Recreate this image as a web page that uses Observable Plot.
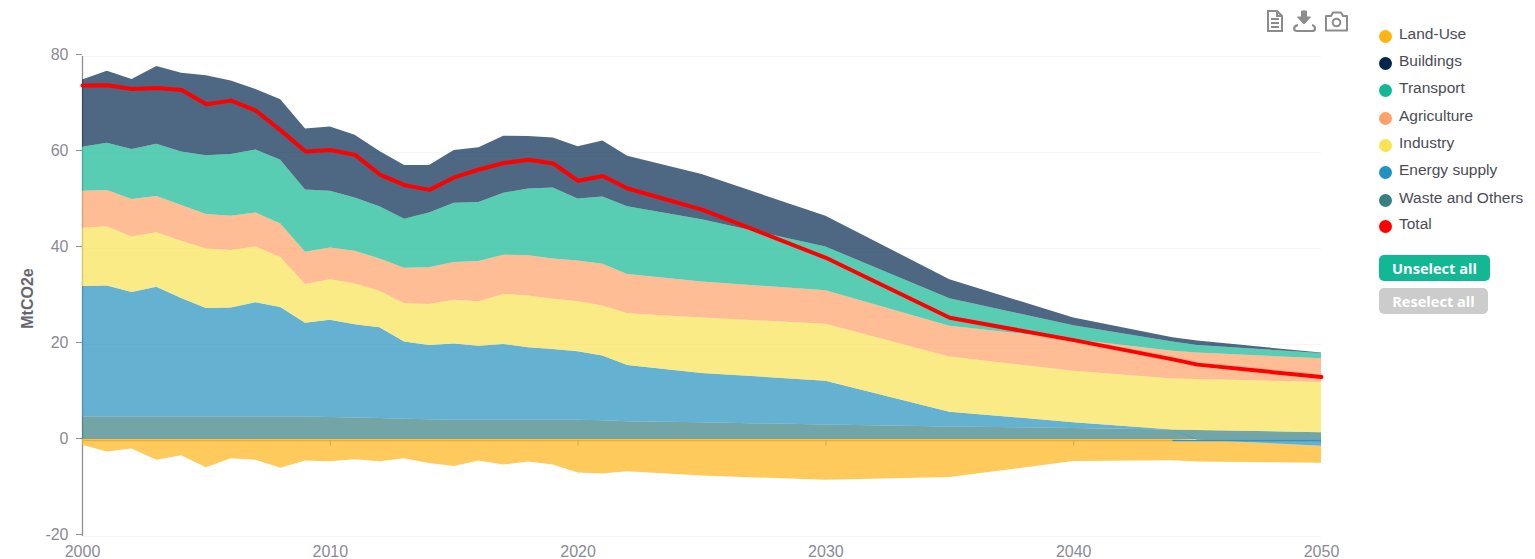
<!DOCTYPE html>
<html><head><meta charset="utf-8">
<script src="https://cdn.jsdelivr.net/npm/d3@7"></script>
<script src="https://cdn.jsdelivr.net/npm/@observablehq/plot@0.6"></script>
<style>
html,body{margin:0;padding:0;background:#fff;overflow:hidden}
#wrap{position:relative;width:1535px;height:559px}
#wrap svg.plot{display:block}
.leg{position:absolute;left:1399px;font:15.5px "Liberation Sans",Arial,sans-serif;color:#4b4b57;line-height:18px;white-space:nowrap}
.dot{position:absolute;left:1379px;width:13px;height:13px;border-radius:50%}
.btn{position:absolute;left:1379px;height:26px;border-radius:5px;color:#fff;font:bold 14.6px/26px "Open Sans",sans-serif;text-align:center}
#icons{position:absolute;left:1262px;top:6px}
</style></head><body><div id="wrap"></div>
<script>
const years=[2000,2001,2002,2003,2004,2005,2006,2007,2008,2009,2010,2011,2012,2013,2014,2015,2016,2017,2018,2019,2020,2021,2022,2025,2030,2035,2040,2044,2045,2050];
const waste=[4.7,4.7,4.7,4.7,4.7,4.7,4.7,4.7,4.7,4.7,4.6,4.5,4.4,4.2,4.1,4.0,4.0,4.0,4.0,4.0,4.0,3.9,3.7,3.5,3.0,2.6,2.3,2.0,1.9,1.4];
const energy=[27.2,27.3,25.9,27.0,24.7,22.6,22.7,23.8,22.8,19.5,20.25,19.4,18.9,16.1,15.5,15.9,15.45,15.8,15.1,14.75,14.3,13.5,11.7,10.25,9.15,3.1,1.2,0,-0.15,-1.4];
const industry=[12.1,12.3,11.6,11.35,11.9,12.4,12.0,11.6,10.4,8.1,8.45,8.5,7.6,8.0,8.5,9.1,9.25,10.4,10.8,10.45,10.4,10.4,10.8,11.55,11.85,11.5,10.7,10.6,10.6,10.5];
const agriculture=[7.7,7.6,7.8,7.55,7.45,7.2,7.1,7.1,7.0,6.7,6.6,6.8,6.7,7.4,7.7,7.9,8.4,8.2,8.4,8.4,8.5,8.7,8.2,7.5,7.0,6.4,6.6,5.8,5.5,4.9];
const transport=[9.2,9.8,10.4,10.9,11.15,12.2,12.9,13.1,13.3,13.0,11.8,11.1,10.9,10.2,11.4,12.3,12.3,12.9,13.9,14.8,12.9,14.0,14.1,13.0,9.1,5.7,2.9,1.9,1.6,1.1];
const buildings=[14.0,15.0,14.6,16.2,16.4,16.7,15.3,12.6,12.6,12.7,13.4,13.1,11.5,11.2,9.9,11.0,11.4,11.9,10.9,10.4,10.9,11.7,10.5,9.4,6.4,4.0,1.6,0.9,0.9,0.1];
const landUse=[-1.2,-2.6,-2.0,-4.3,-3.4,-5.9,-4.0,-4.3,-6.0,-4.5,-4.65,-4.2,-4.65,-4.0,-5.0,-5.6,-4.5,-5.3,-4.7,-5.3,-7.0,-7.2,-6.7,-7.6,-8.5,-7.9,-4.6,-4.45,-4.7,-4.95];
const total=[73.75,73.8,73,73.25,72.8,69.85,70.6,68.5,64.4,60,60.3,59.3,55.2,53,52,54.6,56.25,57.6,58.3,57.5,53.9,54.9,52.3,47.9,37.85,25.35,20.7,16.7,15.6,13.0];

const legendNames=["Land-Use","Buildings","Transport","Agriculture","Industry","Energy supply","Waste and Others","Total"];
const legendColors=["#fdb415","#03264f","#12b894","#ffa168","#f9e352","#2490bf","#377f82","#ff0000"];
const legendDotY=[36,63,90,118,145,172,200,226];
const buttonNames=["Unselect all","Reselect all"];
const yTicks=[-20,0,20,40,60,80];
const xTicks=[2000,2010,2020,2030,2040,2050];

// stacked from the bottom; a negative value hangs below zero and does not raise the stack
const stackOrder=[["Waste and Others",waste],["Energy supply",energy],["Industry",industry],["Agriculture",agriculture],["Transport",transport],["Buildings",buildings]];
const bands=[];
years.forEach((year,i)=>{
  let base=0;
  for(const [series,vals] of stackOrder){
    const v=vals[i];
    if(v>=0){bands.push({year,series,y1:base,y2:base+v});base+=v;}
    else bands.push({year,series,y1:0,y2:v});
  }
  bands.push({year,series:"Land-Use",y1:0,y2:landUse[i]});
});
const totalRows=years.map((year,i)=>({year,value:total[i]}));
const drawOrder=["Land-Use",...stackOrder.map(d=>d[0])];
const energyBelowZero=years.map((year,i)=>({year,v:energy[i]})).filter(d=>d.v<=0);

const chart=Plot.plot({
  width:1535,height:559,
  marginLeft:82,marginRight:214,marginTop:56,marginBottom:23,
  style:{fontFamily:'"Liberation Sans",Arial,sans-serif',background:"transparent"},
  x:{domain:[2000,2050],label:null},
  y:{domain:[-20,80],label:null},
  color:{domain:legendNames,range:legendColors},
  marks:[
    Plot.gridY(yTicks,{stroke:"#f6f6f8",strokeOpacity:1}),
    Plot.ruleX([2000],{y1:-20,y2:80,stroke:"#8f8f98",strokeWidth:1.3}),
    Plot.ruleX(xTicks.slice(1,-1),{y1:0,y2:-1.2,stroke:"#8f8f98"}),
    Plot.areaY(bands.filter(d=>d.series==="Land-Use"),{x:"year",y1:"y1",y2:"y2",fill:"series",fillOpacity:0.7,dy:-1}),
    Plot.areaY(energyBelowZero,{x:"year",y1:0,y2:"v",fill:"#ffffff",dy:-1}),
    ...drawOrder.slice(1).map(s=>Plot.areaY(bands.filter(d=>d.series===s),{x:"year",y1:"y1",y2:"y2",fill:"series",fillOpacity:0.7,dy:-1})),
    Plot.ruleY([0],{x1:2000,x2:2044,stroke:"#e9ae38",strokeWidth:1.3}),
    Plot.ruleY([0],{x1:2044,x2:2050,stroke:"#3f8fae",strokeWidth:1.3}),
    Plot.axisY({ticks:yTicks,tickFormat:d=>String(d),tickSize:6,tickPadding:8,stroke:"#8f8f98",fill:"#8a8a96",fontSize:16,label:null,dy:-2}),
    Plot.axisX({ticks:xTicks,tickFormat:"d",tickSize:0,tickPadding:9,fill:"#8a8a96",fontSize:16,label:null}),
    Plot.text(["MtCO2e"],{frameAnchor:"left",textAnchor:"middle",dx:-55,dy:2,rotate:-90,fontSize:16,fontWeight:"bold",fill:"#666670"}),
    Plot.line(totalRows,{x:"year",y:"value",stroke:"#ff0000",strokeWidth:4,strokeLinejoin:"round",dy:-1})
  ]
});
const wrap=document.getElementById("wrap");
wrap.appendChild(chart);

legendNames.forEach((name,i)=>{
  const dot=document.createElement("div");dot.className="dot";
  dot.style.top=(legendDotY[i]-6.5)+"px";dot.style.background=legendColors[i];wrap.appendChild(dot);
  const t=document.createElement("div");t.className="leg";t.textContent=name;
  t.style.top=(legendDotY[i]-10.6)+"px";wrap.appendChild(t);
});
buttonNames.forEach((name,i)=>{
  const b=document.createElement("div");b.className="btn";b.textContent=name;
  b.style.top=(i?288:255)+"px";b.style.width=(i?109:111)+"px";b.style.background=i?"#cccccc":"#12b894";wrap.appendChild(b);
});
const icons=document.createElement("div");icons.id="icons";
icons.innerHTML=`<svg width="90" height="30" fill="none" stroke="#8c8c8c" stroke-width="2">
<path d="M6 5h9l5 5v15H6z M15 5v5h5 M9 13h8 M9 17h8 M9 21h8"/>
<path d="M39.500 5h5v6h4l-6.500 7-6.500-7h4z" fill="#8c8c8c" stroke-width="1"/><path d="M36 19c-5 1-5 6 -1 6h15c4 0 4-5 0-6" stroke-width="2.200"/>
<path d="M64 10h5l2-3.500h8l2 3.500h4v14.500H64z" stroke-width="2" stroke-linejoin="round"/><circle cx="74.500" cy="16.500" r="3.800" stroke-width="2"/></svg>`;
wrap.appendChild(icons);
</script></body></html>
